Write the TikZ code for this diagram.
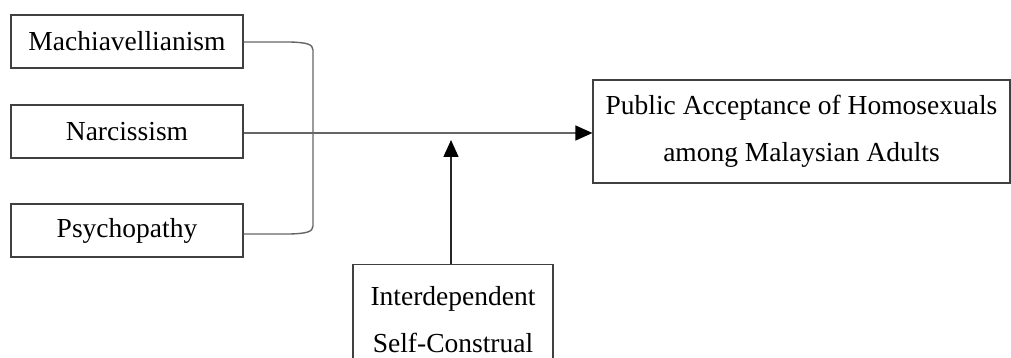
\documentclass[tikz,border=0pt]{standalone}
\usepackage{fontspec}
\setmainfont{Liberation Serif}
\usetikzlibrary{arrows.meta}
\begin{document}
\begin{tikzpicture}[x=1pt,y=-1pt,
  box/.style={draw=black!75,line width=1.2pt,inner sep=0pt,font=\fontsize{27.5}{47}\selectfont,align=center},
  conn/.style={draw=black!60,line width=1.4pt},
  tip/.style={-{Triangle[length=17pt,width=15pt,color=black]}}]
\useasboundingbox (0,0) rectangle (1011,358);
\node[box,minimum width=232pt,minimum height=53pt] (mach) at (127,41.5) {Machiavellianism};
\node[box,minimum width=232pt,minimum height=53pt] (narc) at (127,131.5) {Narcissism};
\node[box,minimum width=232pt,minimum height=53pt] (psych) at (127,230.5) {Psychopathy};
\node[box,minimum width=417pt,minimum height=103pt] (pub) at (801.5,131.5) {Public Acceptance of Homosexuals\\among Malaysian Adults};
\node[box,minimum width=200pt,minimum height=110pt,anchor=north] (inter) at (453,264) {Interdependent\\Self-Construal};
\draw[conn] (mach.east |- 0,42) -- (290,42) .. controls (306,42.5) and (313,44) .. (313,50)
  -- (313,226) .. controls (313,232) and (306,233.5) .. (290,234) -- (psych.east |- 0,234);
\draw[conn,tip] (narc.east |- 0,133) -- (pub.west |- 0,133);
\draw[line width=1.4pt,draw=black!85,tip] (inter.north -| 451,0) -- (451,140);
\end{tikzpicture}
\end{document}
